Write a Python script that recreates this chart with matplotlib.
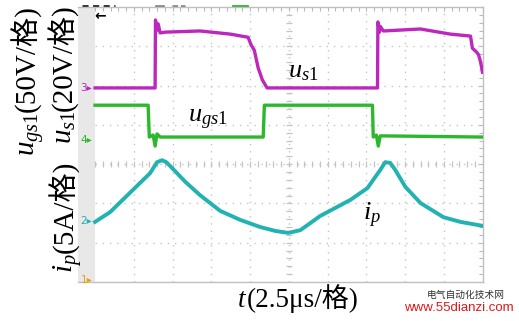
import numpy as np
import matplotlib
matplotlib.use('Agg')
import matplotlib.pyplot as plt

plt.rcParams['mathtext.fontset'] = 'custom'
plt.rcParams['mathtext.rm'] = 'Liberation Serif'
plt.rcParams['mathtext.it'] = 'Liberation Serif:italic'

# Traces, in scope divisions (x: 2.5us/div, 10 div; y: 7 div visible)
us1_t = [0.00, 1.55, 1.56, 1.60, 1.63, 1.68, 1.81, 2.71, 3.49, 3.95, 4.03, 4.11,
         4.21, 4.32, 4.44, 7.29, 7.30, 7.34, 7.36, 7.44, 8.40, 9.17, 9.69, 9.74,
         9.85, 9.90, 9.95, 10.00]
us1_v = [4.94, 4.94, 6.67, 6.41, 6.57, 6.34, 6.36, 6.39, 6.31, 6.23, 6.03, 5.90,
         5.45, 5.14, 4.94, 4.94, 6.62, 6.36, 6.51, 6.39, 6.44, 6.31, 6.26, 5.95,
         5.85, 5.78, 5.60, 5.34]

ugs1_t = [0.00, 1.37, 1.40, 1.50, 1.55, 1.60, 1.68, 4.34, 4.37, 7.16, 7.18,
          7.26, 7.31, 7.36, 10.00]
ugs1_v = [4.50, 4.50, 3.69, 3.74, 3.46, 3.77, 3.69, 3.69, 4.50, 4.50, 3.69,
          3.74, 3.46, 3.72, 3.69]

ip_t = [0.00, 0.39, 0.90, 1.42, 1.60, 1.73, 1.84, 1.99, 2.33, 2.71, 3.23, 3.75,
        4.26, 4.65, 4.99, 5.30, 5.81, 6.59, 7.03, 7.36, 7.49, 7.62, 7.75, 8.01,
        8.40, 8.99, 9.43, 10.00]
ip_v = [1.53, 1.78, 2.27, 2.77, 3.05, 3.10, 3.05, 2.90, 2.55, 2.21, 1.81, 1.58,
        1.40, 1.30, 1.25, 1.32, 1.68, 2.09, 2.39, 2.85, 3.05, 3.03, 2.85, 2.42,
        2.01, 1.65, 1.53, 1.43]

# channel reference markers (label, level in div, colour)
ch_labels = ['3', '4', '2', '1']
ch_levels = [4.94, 3.62, 1.56, 0.05]

C_MAG = '#bc28bc'
C_GRN = '#2cb82c'
C_CYN = '#22b2b2'
C_ORG = '#e3a21a'
ch_colors = [C_MAG, C_GRN, C_CYN, C_ORG]

SERIF = ['Liberation Serif', 'Noto Sans CJK SC']
W, H = 519, 321
FS = 19

fig = plt.figure(figsize=(W / 100, H / 100), dpi=100)
ax = fig.add_axes([78 / W, 39 / H, 404.5 / W, 275 / H])
ax.set_xlim(-0.44, 10)
ax.set_ylim(0, 7)

# grey strip on the left of the screen
ax.axvspan(-0.44, 0, color='#e8e8e8', lw=0, zorder=0)

# dotted graticule
grid_kw = dict(color='#c4c4c4', lw=1.0, linestyle=(0, (1, 4.2)), zorder=1)
ax.vlines(np.arange(1, 10), 0, 7, **grid_kw)
ax.hlines(np.arange(1, 7), 0, 10, **grid_kw)
# centre lines with fine ticks
minor_x = np.arange(0, 10.01, 0.2)
minor_y = np.arange(0, 7.01, 0.2)
ax.plot(minor_x, np.full_like(minor_x, 3.0), ls='none', marker='|', ms=4,
        mew=0.9, color='#c4c4c4', zorder=1)
ax.plot(np.full_like(minor_y, 5.0), minor_y, ls='none', marker='_', ms=4,
        mew=0.9, color='#c4c4c4', zorder=1)

# frame with ruler ticks on top and right
for side in ['top', 'right', 'bottom']:
    ax.spines[side].set_color('#c0c0c0')
    ax.spines[side].set_linewidth(1.0)
ax.spines['left'].set_visible(False)
ax.xaxis.set_ticks_position('top')
ax.yaxis.set_ticks_position('right')
ax.set_xticks(minor_x)
ax.set_yticks(minor_y)
ax.tick_params(direction='in', length=3, width=0.8, color='#b8b8b8',
               labeltop=False, labelright=False, labelbottom=False, labelleft=False)

# traces
ax.plot(us1_t, us1_v, color=C_MAG, lw=2.4, zorder=3)
ax.plot(ugs1_t, ugs1_v, color=C_GRN, lw=2.4, zorder=3)
ax.plot(ip_t, ip_v, color=C_CYN, lw=2.8, zorder=3)

# channel markers in the strip
for lab, lev, col in zip(ch_labels, ch_levels, ch_colors):
    ax.text(-0.22, lev, lab + '\u25B8', color=col, fontsize=7.5,
            ha='center', va='center', family='DejaVu Sans', zorder=4)

# trigger arrow and header remnants
ax.text(0.12, 6.78, '\u2190', fontsize=10, fontweight='bold', color='k',
        ha='center', va='center', family='DejaVu Sans')
ax.plot([-0.34, 0.52], [7.03, 7.03], color='#222222', lw=2,
        ls=(0, (2.2, 1.6)), clip_on=False)
ax.plot([1.57, 1.75], [7.03, 7.03], color='#888888', lw=2, clip_on=False)
ax.plot([1.99, 2.32], [7.03, 7.03], color='#888888', lw=2,
        ls=(0, (2, 1)), clip_on=False)
ax.plot([3.56, 3.92], [7.03, 7.03], color=C_GRN, lw=2, clip_on=False)

# in-plot trace names
ax.text(4.99, 5.22, r'$u_{\mathit{s1}}$', fontsize=FS, ha='left', va='baseline')
ax.text(2.40, 4.07, r'$u_{\mathit{gs1}}$', fontsize=FS, ha='left', va='baseline')
ax.text(6.92, 1.58, r'$i_{p}$', fontsize=FS, ha='left', va='baseline')


def chain(x0, y0, pieces, rot, size):
    # lay text pieces one after another along the baseline (pixels from bottom-left)
    renderer = fig.canvas.get_renderer()
    x, y = x0, y0
    for s in pieces:
        t = fig.text(x / W, y / H, s, rotation=rot, rotation_mode='anchor',
                     ha='left', va='baseline', fontsize=size, family=SERIF)
        bb = t.get_window_extent(renderer)
        if rot == 0:
            x += bb.width
        else:
            y += bb.height


# axis titles
chain(35, H - 156, [r'$u_{\mathit{gs1}}$', '(50V/格)'], 90, 21)
chain(72, H - 144, [r'$u_{\mathit{s1}}$', '(20V/格)'], 90, 21)
chain(73, H - 273, [r'$i_{p}$', '(5A/格)'], 90, 21)
chain(237, H - 307, [r'$t$', '(2.5μs/格)'], 0, 19.5)

# watermark
fig.text(466 / W, 1 - 295 / H, '电气自动化技术网', fontsize=7,
         family=['Noto Sans CJK SC'], color='#333333', ha='center', va='center')
fig.text(459 / W, 1 - 308 / H, 'www.55dianzi.com', fontsize=9.5,
         family=['Liberation Sans'], color='#e01818', ha='center', va='center')

fig.savefig('out.png', dpi=100)
